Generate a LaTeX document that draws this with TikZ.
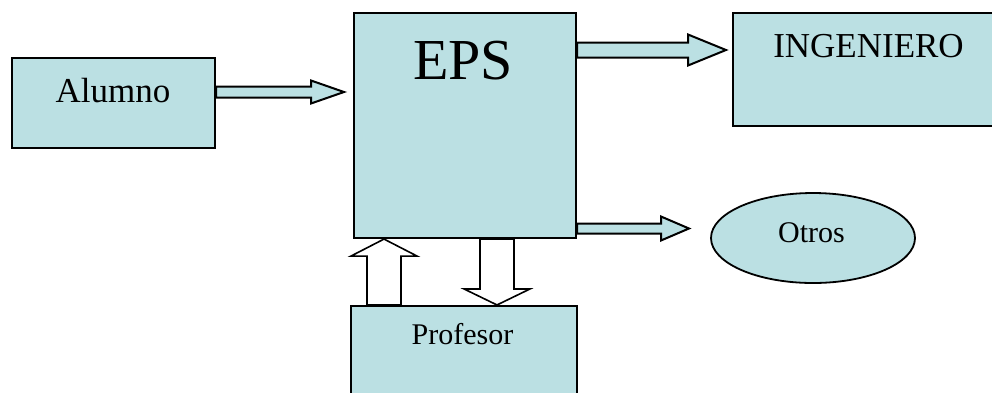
\documentclass[tikz,border=0pt]{standalone}
\usepackage{fontspec}
\setmainfont{Liberation Serif}
\usetikzlibrary{calc,shapes.geometric}
\definecolor{boxfill}{RGB}{187,224,227}
\tikzset{
  box/.style={draw=black, line width=2.1pt, fill=boxfill, rectangle, inner sep=0pt},
  oval/.style={draw=black, line width=1.8pt, fill=boxfill, ellipse, inner sep=0pt},
  lbl/.style={anchor=base, inner sep=0pt, text=black},
  barrow/.style={draw=black, line width=2pt, fill=boxfill, line join=miter},
  warrow/.style={draw=black, line width=1.6pt, fill=white, line join=miter}
}
% #1 style, #2 from, #3 to, #4 half shaft, #5 half head, #6 head length
\newcommand\blockarrow[6]{%
  \coordinate (ba-h) at ($(#3)!#6!(#2)$);
  \draw[#1] ($(#2)!#4!90:(#3)$) -- ($(ba-h)!#4!-90:(#2)$) -- ($(ba-h)!#5!-90:(#2)$) -- (#3)
    -- ($(ba-h)!#5!90:(#2)$) -- ($(ba-h)!#4!90:(#2)$) -- ($(#2)!#4!-90:(#3)$) -- cycle;}
\begin{document}
\begin{tikzpicture}[x=1pt,y=-1pt]
\useasboundingbox (0,0) rectangle (992,392);
\clip (0,0) rectangle (992,392);
% boxes
\node[box, minimum width=203pt, minimum height=90pt] (alumno) at (113.5,103) {};
\node[box, minimum width=222pt, minimum height=225pt] (eps) at (465,125.5) {};
\node[box, minimum width=267pt, minimum height=113pt] (ing) at (866.5,69.5) {};
\node[oval, minimum width=204pt, minimum height=90pt] (otros) at (813,238) {};
\node[box, minimum width=226pt, minimum height=100pt] (prof) at (464,356) {};
% labels
\node[lbl, font=\fontsize{35}{40}\selectfont] (talumno) at (113,102) {Alumno};
\node[lbl, font=\fontsize{58}{64}\selectfont] (teps) at (463,79) {EPS};
\node[lbl, font=\fontsize{35}{40}\selectfont] (ting) at (868.5,57) {INGENIERO};
\node[lbl, font=\fontsize{30}{34}\selectfont] (totros) at (811.5,242) {Otros};
\node[lbl, font=\fontsize{30}{34}\selectfont] (tprof) at (462.5,344) {Profesor};
% arrow end points
\coordinate (a1s) at (alumno.east |- 0,92);
\coordinate (a1e) at (344,92);
\coordinate (a2s) at (eps.east |- 0,50);
\coordinate (a2e) at (726,50);
\coordinate (a3s) at (eps.east |- 0,228.5);
\coordinate (a3e) at (689,228.5);
\coordinate (a4s) at (prof.north -| 384,0);
\coordinate (a4e) at (eps.south -| 384,0);
\coordinate (a5s) at (eps.south -| 497,0);
\coordinate (a5e) at (prof.north -| 497,0);
% arrows
\blockarrow{barrow}{a1s}{a1e}{5.5pt}{11.5pt}{33pt}
\blockarrow{barrow}{a2s}{a2e}{7.5pt}{15.5pt}{38pt}
\blockarrow{barrow}{a3s}{a3e}{5pt}{12pt}{28pt}
\blockarrow{warrow}{a4s}{a4e}{17pt}{33pt}{17pt}
\blockarrow{warrow}{a5s}{a5e}{17pt}{33pt}{16pt}
\end{tikzpicture}
\end{document}
